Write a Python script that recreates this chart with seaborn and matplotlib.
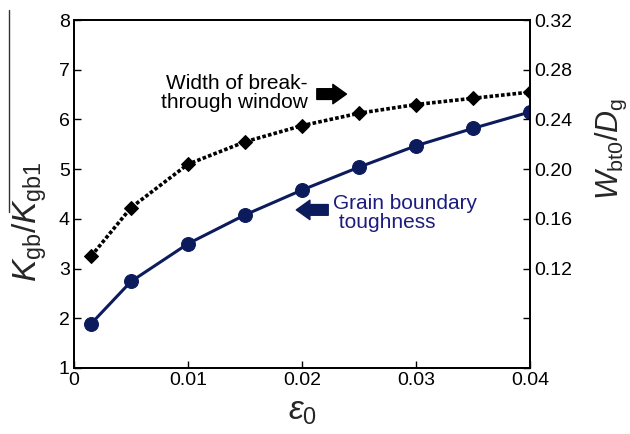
import matplotlib
matplotlib.use("Agg")
import matplotlib.pyplot as plt
from matplotlib.lines import Line2D
import seaborn as sns

# strain values (x axis)
eps0 = [0.0015, 0.005, 0.01, 0.015, 0.02, 0.025, 0.03, 0.035, 0.04]
# grain boundary toughness K_gb/K_gb1 (left axis)
k_ratio = [1.89, 2.74, 3.50, 4.08, 4.58, 5.04, 5.47, 5.82, 6.15]
# width of break-through window W_bt0/D_g (right axis)
w_ratio = [0.130, 0.169, 0.204, 0.222, 0.235, 0.245, 0.252, 0.257, 0.262]

x_ticks = [0, 0.01, 0.02, 0.03, 0.04]
x_ticklabels = ["0", "0.01", "0.02", "0.03", "0.04"]
left_ticks = [1, 2, 3, 4, 5, 6, 7, 8]
right_ticks = [0.04, 0.08, 0.12, 0.16, 0.20, 0.24, 0.28, 0.32]
right_ticklabels = ["", "", "0.12", "0.16", "0.20", "0.24", "0.28", "0.32"]

navy = "#0c1b5c"
navy_text = "#1c1c7e"

sns.set_style("ticks")
plt.rcParams["font.family"] = ["Liberation Sans", "DejaVu Sans"]
plt.rcParams["mathtext.fontset"] = "custom"
plt.rcParams["mathtext.rm"] = "Liberation Sans"
plt.rcParams["mathtext.it"] = "Liberation Sans:italic"
plt.rcParams["xtick.direction"] = "in"
plt.rcParams["ytick.direction"] = "in"

fig = plt.figure(figsize=(6.3, 4.34), dpi=100)
ax = fig.add_axes([74 / 630, 1 - 368 / 434, 456 / 630, 348 / 434])
ax2 = ax.twinx()

sns.lineplot(x=eps0, y=k_ratio, ax=ax, color=navy, linewidth=2.2,
             marker="o", markersize=10, markeredgecolor=navy)
sns.lineplot(x=eps0, y=w_ratio, ax=ax2, color="black", linewidth=2.6,
             linestyle=(0, (1, 0.6)), marker="D", markersize=7.5,
             markeredgecolor="black")

ax.set_xlim(0, 0.04)
ax.set_ylim(1, 8)
ax2.set_ylim(0.04, 0.32)
ax.set_xticks(x_ticks)
ax.set_xticklabels(x_ticklabels)
ax.set_yticks(left_ticks)
ax2.set_yticks(right_ticks)
ax2.set_yticklabels(right_ticklabels)

for a in (ax, ax2):
    a.tick_params(labelsize=14, length=5, width=1, pad=3, colors="black")
    for s in a.spines.values():
        s.set_linewidth(1.3)
        s.set_color("black")
        s.set_visible(True)
ax.tick_params(axis="y", right=False)
ax2.tick_params(axis="y", left=False)

ax.set_xlabel(r"$\varepsilon_{\rm 0}$", fontsize=24)
ax.xaxis.set_label_coords(0.5, -0.08)
ax.set_ylabel(r"$K_{\rm gb}/K_{\rm gb1}$", fontsize=24)
ax.yaxis.set_label_coords(-0.055, 0.42)
ax2.set_ylabel(r"$W_{\rm bt0}/D_{\rm g}$", fontsize=22, rotation=90)
ax2.yaxis.set_label_coords(1.14, 0.63)

# annotations
ax.text(0.0205, 6.53, "Width of break-\nthrough window", ha="right", va="center",
        fontsize=15, linespacing=0.95, color="black")
ax.annotate("", xy=(0.0239, 6.51), xytext=(0.0213, 6.51),
            arrowprops=dict(arrowstyle="simple,head_width=1.0,head_length=0.7,tail_width=0.55",
                            color="black", shrinkA=0, shrinkB=0, mutation_scale=14))
ax.text(0.0227, 4.12, "Grain boundary\n toughness", ha="left", va="center",
        fontsize=15, linespacing=0.95, color=navy_text)
ax.annotate("", xy=(0.0195, 4.18), xytext=(0.0223, 4.18),
            arrowprops=dict(arrowstyle="simple,head_width=1.0,head_length=0.7,tail_width=0.55",
                            color=navy, shrinkA=0, shrinkB=0, mutation_scale=14))

# thin vertical rule at far left of the original figure
fig.add_artist(Line2D([9 / 630, 9 / 630], [1 - 10 / 434, 1 - 212 / 434],
                      transform=fig.transFigure, color="#333333", linewidth=1))

fig.savefig("out.png", dpi=100)
